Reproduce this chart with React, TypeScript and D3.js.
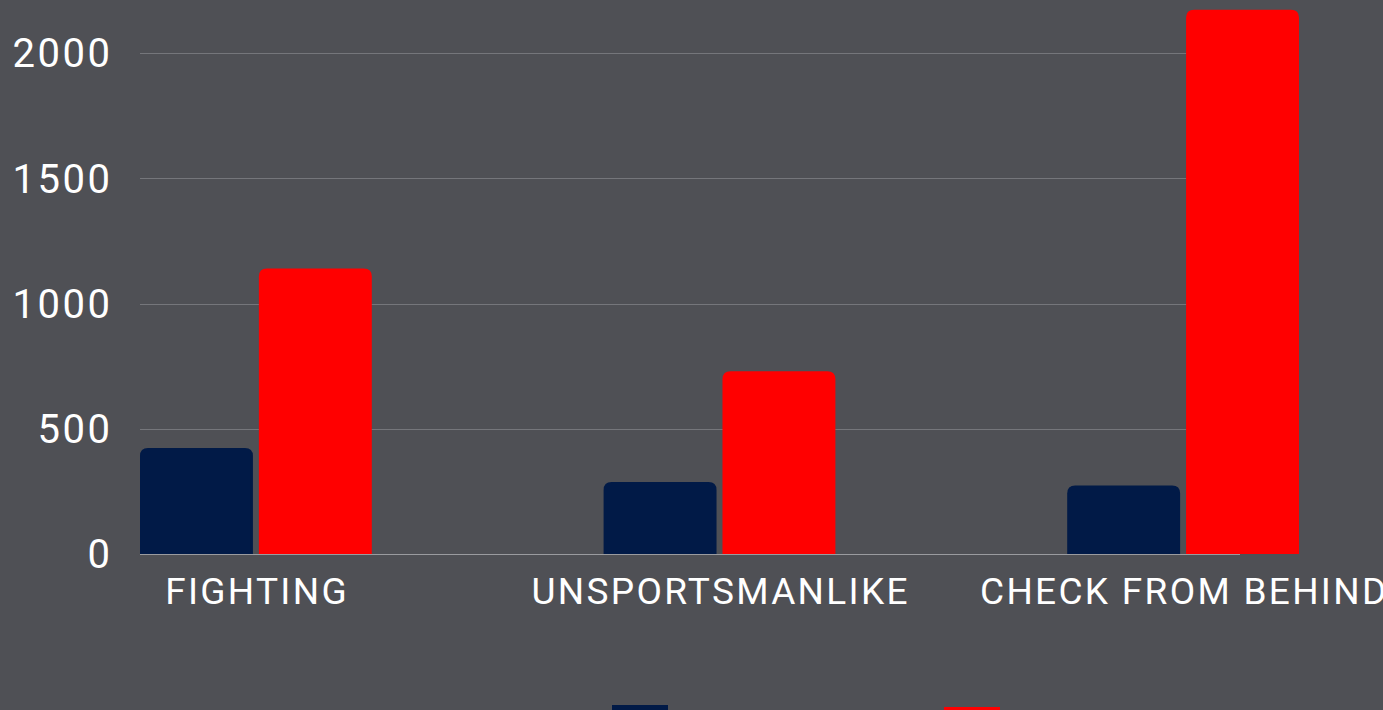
import React from "react";
import * as d3 from "d3";

const categories = ["FIGHTING", "UNSPORTSMANLIKE", "CHECK FROM BEHIND"];
const seriesNames = ["Series A", "Series B"];
const seriesA = [423, 287, 273];
const seriesB = [1140, 730, 2173];
const yTicks = [0, 500, 1000, 1500, 2000];
const colors = ["#011a47", "#ff0000"];

const W = 1383;
const H = 710;

function topRoundedRect(x: number, y: number, w: number, h: number, r: number) {
  const rr = Math.min(r, w / 2, h / 2);
  return `M${x},${y + h}V${y + rr}Q${x},${y} ${x + rr},${y}H${x + w - rr}Q${x + w},${y} ${x + w},${y + rr}V${y + h}Z`;
}

export default function App() {
  const left = 140;
  const x0 = d3.scaleBand<string>().domain(categories).range([left, 1299]).paddingInner(0.5).paddingOuter(0);
  const x1 = d3.scaleBand<string>().domain(seriesNames).range([0, x0.bandwidth()]).paddingInner(0.05);
  const y = d3.scaleLinear().domain([0, 2000]).range([554, 53]);
  const gridRight = 1240;
  const values = [seriesA, seriesB];
  const font = "Roboto, 'Open Sans', sans-serif";
  const yLs = 2.5;
  const xLs = 2.3;

  return (
    <div style={{ position: "fixed", left: 0, top: 0, width: W, height: H }}>
      <svg width={W} height={H} style={{ display: "block", background: "#4f5055" }}>
        <rect x={0} y={0} width={W} height={H} fill="#4f5055" />
        {yTicks.map((t) => (
          <g key={t}>
            <line
              x1={left}
              x2={gridRight}
              y1={Math.round(y(t)) + 0.5}
              y2={Math.round(y(t)) + 0.5}
              stroke={t === 0 ? "#9a9b9f" : "#75767b"}
              strokeWidth={1}
            />
            <text
              x={110 + yLs}
              y={y(t)}
              dy="0.36em"
              textAnchor="end"
              fill="#ffffff"
              fontFamily={font}
              fontSize={40}
              letterSpacing={yLs}
            >
              {t}
            </text>
          </g>
        ))}
        {categories.map((c, i) => (
          <g key={c}>
            {seriesNames.map((s, j) => {
              const v = values[j][i];
              const bx = (x0(c) as number) + (x1(s) as number);
              const by = y(v);
              return (
                <path
                  key={s}
                  d={topRoundedRect(bx, by, x1.bandwidth(), y(0) - by, 8)}
                  fill={colors[j]}
                />
              );
            })}
            <text
              x={(x0(c) as number) + x0.bandwidth() / 2 + xLs / 2}
              y={604}
              textAnchor="middle"
              fill="#ffffff"
              fontFamily={font}
              fontSize={37}
              letterSpacing={xLs}
            >
              {c}
            </text>
          </g>
        ))}
        {seriesNames.map((s, j) => (
          <rect key={s} x={612 + j * 332} y={705 + j * 2} width={56} height={20} fill={colors[j]} />
        ))}
      </svg>
    </div>
  );
}
